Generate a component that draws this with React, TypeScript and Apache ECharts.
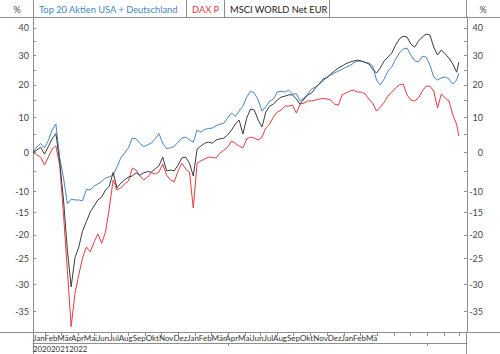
import { useEffect, useRef } from 'react';
import * as echarts from 'echarts';

const seriesNames = ['Top 20 Aktien USA + Deutschland', 'DAX P', 'MSCI WORLD Net EUR'];
const seriesColors = ['#4885c2', '#e43c41', '#3c3c3c'];

// weekly observations starting 2020-01-09, last point 2022-02-28
const firstDate = '2020-01-09';
const lastDate = '2022-02-28';

const top20 = [
  0, 1.4, 2.4, 1.2, 3.2, 6.2, 7.9, -1.5, -6.7, -13.0,
  -11.9, -12.1, -12.1, -12.3, -9.5, -9.7, -8.7, -8.2, -7.6, -6.7,
  -6.4, -6.0, -3.9, -1.5, -0.2, 1.2, 3.9, 3.7, 2.5, 1.6,
  2.0, 2.5, 3.7, 5.2, 2.5, 1.0, 1.2, 1.6, 2.8, 3.9,
  4.2, 3.4, 2.8, 6.2, 5.6, 6.4, 6.6, 6.8, 7.5, 7.9,
  8.2, 9.7, 11.2, 10.2, 11.8, 13.3, 16.1, 18.0, 17.4, 15.2,
  11.8, 13.1, 14.9, 15.5, 17.7, 18.0, 17.7, 18.3, 17.1, 17.1,
  14.9, 15.8, 17.1, 18.7, 19.3, 20.3, 21.3, 22.6, 23.2, 23.9,
  24.6, 25.2, 25.9, 26.4, 27.3, 28.0, 28.0, 27.5, 27.3, 26.3,
  21.6, 20.0, 21.9, 24.6, 26.0, 28.6, 30.8, 32.2, 32.6, 30.1,
  28.1, 27.7, 29.7, 29.4, 26.6, 22.6, 21.6, 22.3, 22.6, 21.9,
  20.3, 21.6, 23.9,
];

const daxP = [
  0, -0.7, -1.3, -3.4, -1.3, 0.9, 1.7, -3.4, -15.6, -27.3,
  -37.6, -31.7, -28.2, -24.8, -22.6, -23.6, -21.6, -19.8, -21.8, -19.4,
  -14.0, -7.2, -9.7, -9.2, -8.2, -7.5, -4.2, -4.7, -6.2, -7.2,
  -6.5, -5.4, -5.7, -5.2, -3.1, -6.0, -7.2, -7.7, -5.0, -2.9,
  -4.4, -5.2, -14.0, -2.9, -2.3, -1.8, -1.3, -1.4, -1.5, -0.2,
  0.6, 1.4, 3.1, 2.5, 1.7, 1.2, 3.7, 4.2, 3.9, 3.4,
  4.2, 6.8, 7.9, 10.0, 11.5, 12.1, 13.3, 13.3, 13.6, 11.2,
  13.9, 14.2, 14.9, 14.9, 15.2, 15.5, 15.7, 15.5, 15.2, 13.9,
  13.6, 16.8, 17.4, 18.0, 18.3, 17.7, 17.7, 17.1, 15.5, 14.2,
  11.8, 13.0, 14.5, 16.4, 17.7, 19.0, 20.0, 20.3, 16.8, 15.2,
  14.9, 15.8, 18.0, 19.6, 19.6, 18.0, 12.7, 17.1, 15.8, 14.9,
  10.6, 7.9, 4.5,
];

const msciWorld = [
  0, 0.6, 1.4, -0.5, 1.5, 3.7, 5.2, -2.6, -12.1, -23.2,
  -30.5, -24.8, -22.6, -19.1, -17.1, -14.9, -13.5, -12.1, -11.4, -9.7,
  -8.7, -5.3, -9.2, -8.0, -7.2, -6.5, -6.2, -5.4, -6.0, -5.4,
  -5.1, -5.2, -4.4, -3.6, -1.3, -4.9, -4.7, -4.9, -3.4, -1.5,
  -1.3, -2.9, -6.2, 0.9, 1.7, 2.5, 2.8, 2.5, 3.4, 3.7,
  3.9, 4.8, 6.2, 7.9, 9.1, 5.1, 9.7, 12.4, 12.1, 9.1,
  7.1, 11.5, 13.3, 13.9, 15.2, 16.1, 16.4, 16.8, 16.8, 15.5,
  13.9, 15.5, 16.8, 17.4, 19.0, 20.3, 21.9, 22.3, 23.6, 24.6,
  25.6, 26.3, 27.1, 27.6, 28.0, 28.3, 28.0, 27.6, 27.0, 25.2,
  23.9, 25.6, 28.0, 29.4, 30.8, 33.6, 35.9, 36.9, 36.6, 34.0,
  32.9, 35.1, 36.6, 37.7, 37.3, 32.9, 30.1, 31.9, 30.5, 29.0,
  27.0, 24.2, 27.6,
];

const yLabelValues = [40, 30, 20, 10, 0, -10, -15, -20, -25, -30, -35];
const yTickValues = [40, 35, 30, 25, 20, 15, 10, 5, 0, -5, -10, -15, -20, -25, -30, -35];
const yMinPct = -38.5;
const yMaxPct = 44.2;

const monthLabels = [
  'Jan', 'Feb', 'Mär', 'Apr', 'Mai', 'Jun', 'Jul', 'Aug', 'Sep', 'Okt', 'Nov', 'Dez',
  'Jan', 'Feb', 'Mär', 'Apr', 'Mai', 'Jun', 'Jul', 'Aug', 'Sep', 'Okt', 'Nov', 'Dez',
  'Jan', 'Feb', 'Mär',
];
const yearLabels = ['2020', '2021', '2022'];
const xMin = '2020-01-09';
const xMax = '2022-03-15';

const FONT = 'Lato, "Liberation Sans", sans-serif';
const AXIS_COLOR = '#8e8e8e';

const DAY = 86400000;
const toLog = (p: number) => Math.log(1 + p / 100);
const fromLog = (v: number) => Math.round((Math.exp(v) - 1) * 100);
const ts = (s: string) => Date.parse(s + 'T00:00:00Z');

function buildDates(n: number): number[] {
  const out: number[] = [];
  for (let i = 0; i < n - 1; i++) out.push(ts(firstDate) + i * 7 * DAY);
  out.push(ts(lastDate));
  return out;
}

function monthStarts(): number[] {
  const out: number[] = [];
  for (let y = 2020; y <= 2022; y++) {
    for (let m = 0; m < 12; m++) {
      const t = Date.UTC(y, m, 1);
      if (t > ts(xMin) && t < ts(xMax)) out.push(t);
    }
  }
  return out;
}

export default function App() {
  const ref = useRef<HTMLDivElement>(null);

  useEffect(() => {
    if (!ref.current) return;
    const chart = echarts.init(ref.current, undefined, { renderer: 'svg' });
    const dates = buildDates(top20.length);
    const allSeries = [top20, daxP, msciWorld];

    const yAxisBase = {
      type: 'value' as const,
      min: toLog(yMinPct),
      max: toLog(yMaxPct),
      splitLine: { show: false },
      axisLine: { show: true, onZero: false, lineStyle: { color: AXIS_COLOR, width: 1 } },
      axisTick: {
        show: true,
        inside: true,
        length: 3,
        customValues: yTickValues.map(toLog),
        lineStyle: { color: AXIS_COLOR },
      },
    };

    const labelBase = {
      customValues: yLabelValues.map(toLog),
      formatter: (v: number) => String(fromLog(v)),
      fontSize: 9,
      color: '#444',
      fontFamily: FONT,
    };

    const textEl = (x: number, y: number, text: string, color: string, size: number, align = 'left') => ({
      type: 'text',
      x,
      y,
      silent: true,
      style: {
        text,
        fill: color,
        font: `${size}px ${FONT}`,
        textAlign: align,
        textVerticalAlign: 'middle',
      },
    });
    const lineEl = (x1: number, y1: number, x2: number, y2: number) => ({
      type: 'line',
      silent: true,
      shape: { x1, y1, x2, y2 },
      style: { stroke: AXIS_COLOR, lineWidth: 1 },
    });

    const monthText = monthLabels.join('');
    // the reference clips the last month label after two letters
    const monthTextShown = monthText.slice(0, monthText.length - 1);

    chart.setOption({
      animation: false,
      grid: { left: 33, right: 33, top: 17, bottom: 22, containLabel: false },
      xAxis: [
        {
          type: 'time',
          min: ts(xMin),
          max: ts(xMax),
          splitLine: { show: false },
          axisLine: { show: true, onZero: false, lineStyle: { color: AXIS_COLOR } },
          axisTick: {
            show: true,
            length: 4,
            customValues: monthStarts(),
            lineStyle: { color: AXIS_COLOR },
          },
          axisLabel: { show: false },
        },
        {
          type: 'time',
          min: ts(xMin),
          max: ts(xMax),
          position: 'bottom',
          offset: 11,
          splitLine: { show: false },
          axisLine: { show: true, onZero: false, lineStyle: { color: AXIS_COLOR } },
          axisTick: {
            show: true,
            length: 3,
            customValues: [Date.UTC(2021, 0, 1), Date.UTC(2022, 0, 1)],
            lineStyle: { color: AXIS_COLOR },
          },
          axisLabel: { show: false },
        },
      ],
      yAxis: [
        { ...yAxisBase, position: 'left', axisLabel: { ...labelBase, margin: 4 } },
        { ...yAxisBase, position: 'right', axisLabel: { ...labelBase, margin: 16, align: 'right' } },
      ],
      series: allSeries.map((vals, i) => ({
        name: seriesNames[i],
        type: 'line',
        xAxisIndex: 0,
        yAxisIndex: 0,
        showSymbol: false,
        symbol: 'none',
        z: i === 2 ? 4 : 3,
        lineStyle: { color: seriesColors[i], width: 1 },
        itemStyle: { color: seriesColors[i] },
        data: vals.map((v, k) => [dates[k], toLog(v)]),
      })),
      graphic: [
        lineEl(0, 17.5, 500, 17.5),
        lineEl(33.5, 0, 33.5, 17),
        lineEl(466.5, 0, 466.5, 17),
        lineEl(186.5, 0, 186.5, 17),
        lineEl(224.5, 0, 224.5, 17),
        lineEl(329.5, 0, 329.5, 17),
        lineEl(0, 332.5, 500, 332.5),
        lineEl(33.5, 332, 33.5, 354),
        lineEl(466.5, 332, 466.5, 354),
        textEl(17, 9, '%', '#444', 9, 'center'),
        textEl(483, 9, '%', '#444', 9, 'center'),
        textEl(39, 9, seriesNames[0], seriesColors[0], 9.3),
        textEl(192, 9, seriesNames[1], seriesColors[1], 9.3),
        textEl(230, 9, seriesNames[2], '#222', 9.3),
        textEl(33, 337.5, monthTextShown, '#333', 8),
        textEl(33, 348.5, yearLabels.join(''), '#333', 7.8),
      ],
    });

    return () => chart.dispose();
  }, []);

  return (
    <div
      ref={ref}
      style={{ position: 'fixed', left: 0, top: 0, width: 500, height: 354, background: '#fff' }}
    />
  );
}
